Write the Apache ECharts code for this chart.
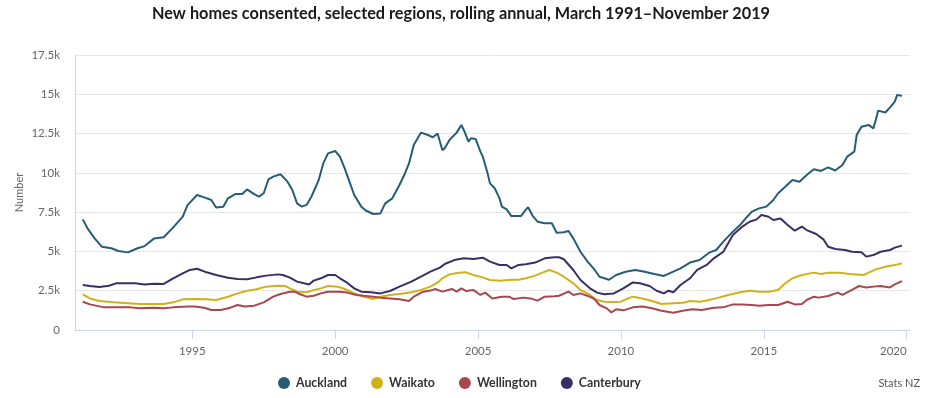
<!DOCTYPE html>
<html>
<head>
<meta charset="utf-8">
<title>New homes consented</title>
<script src="https://cdn.jsdelivr.net/npm/echarts@6/dist/echarts.min.js"></script>
<style>
html, body { margin: 0; padding: 0; background: #fff; }
#echarts { width: 932px; height: 398px; }
</style>
</head>
<body>
<div id="echarts"></div>
<script>
// rolling annual new homes consented
var auckland = [
	['1991-03',7040],['1991-05',6470],['1991-08',5830],['1991-11',5300],['1992-03',5200],['1992-06',5030],
	['1992-10',4940],['1993-02',5200],['1993-05',5340],['1993-09',5830],['1994-01',5900],['1994-05',6530],
	['1994-09',7210],['1994-11',7950],['1995-03',8590],['1995-06',8440],['1995-09',8270],['1995-11',7790],
	['1996-02',7850],['1996-04',8380],['1996-07',8650],['1996-10',8650],['1996-12',8950],['1997-03',8650],
	['1997-05',8490],['1997-07',8700],['1997-09',9590],['1997-11',9760],['1998-02',9910],['1998-05',9440],
	['1998-07',8910],['1998-09',8060],['1998-11',7850],['1999-01',7960],['1999-03',8480],['1999-06',9500],
	['1999-08',10600],['1999-10',11240],['2000-01',11390],['2000-03',11030],['2000-05',10290],['2000-07',9440],
	['2000-09',8590],['2000-12',7850],['2001-02',7590],['2001-05',7380],['2001-08',7420],['2001-10',8060],
	['2002-01',8380],['2002-04',9230],['2002-06',9860],['2002-08',10600],['2002-10',11770],['2002-12',12300],
	['2003-01',12560],['2003-04',12410],['2003-06',12260],['2003-08',12510],['2003-10',11450],['2003-11',11560],
	['2004-01',12090],['2004-04',12560],['2004-06',13050],['2004-07',12730],['2004-09',11980],['2004-10',12200],
	['2004-12',12150],['2005-02',11350],['2005-03',11030],['2005-05',9970],['2005-06',9330],['2005-08',9020],
	['2005-10',8380],['2005-11',7850],['2006-01',7680],['2006-03',7250],['2006-07',7250],['2006-09',7640],
	['2006-10',7810],['2006-12',7250],['2007-02',6890],['2007-05',6790],['2007-08',6790],['2007-10',6190],
	['2008-01',6220],['2008-03',6300],['2008-05',5830],['2008-08',4980],['2008-11',4350],['2009-02',3820],
	['2009-04',3390],['2009-08',3200],['2009-11',3500],['2010-03',3710],['2010-07',3820],['2010-11',3710],
	['2011-03',3560],['2011-07',3440],['2011-11',3710],['2012-02',3920],['2012-06',4290],['2012-10',4450],
	['2013-02',4920],['2013-05',5090],['2013-08',5620],['2013-12',6260],['2014-03',6680],['2014-06',7210],
	['2014-08',7530],['2014-11',7740],['2015-02',7850],['2015-05',8270],['2015-07',8700],['2015-10',9120],
	['2016-01',9550],['2016-04',9440],['2016-07',9860],['2016-10',10230],['2017-01',10120],['2017-04',10350],
	['2017-07',10150],['2017-10',10500],['2017-12',11030],['2018-03',11350],['2018-04',12410],['2018-06',12940],
	['2018-09',13050],['2018-11',12830],['2018-12',13360],['2019-01',13960],['2019-04',13840],['2019-06',14170],
	['2019-08',14530],['2019-09',14960],['2019-11',14900]
];
var waikato = [
	['1991-03',2270],['1991-06',2010],['1991-10',1850],['1992-04',1760],['1992-10',1700],['1993-03',1650],
	['1993-09',1650],['1994-01',1650],['1994-05',1760],['1994-09',1950],['1995-02',1980],['1995-07',1950],
	['1995-11',1910],['1996-04',2120],['1996-08',2330],['1996-12',2500],['1997-04',2590],['1997-08',2760],
	['1998-01',2820],['1998-04',2800],['1998-06',2650],['1998-09',2440],['1999-01',2400],['1999-03',2500],
	['1999-07',2650],['1999-10',2800],['2000-02',2760],['2000-05',2610],['2000-09',2330],['2001-01',2120],
	['2001-05',1970],['2001-08',2120],['2001-12',2230],['2002-04',2290],['2002-09',2400],['2003-01',2550],
	['2003-05',2760],['2003-08',3010],['2003-10',3290],['2004-01',3540],['2004-05',3650],['2004-08',3670],
	['2004-11',3500],['2005-03',3350],['2005-06',3180],['2005-10',3140],['2006-03',3200],['2006-06',3200],
	['2006-09',3290],['2007-01',3460],['2007-04',3650],['2007-07',3820],['2007-10',3650],['2008-01',3390],
	['2008-05',2970],['2008-08',2550],['2008-12',2230],['2009-03',1910],['2009-06',1800],['2009-10',1780],
	['2010-01',1800],['2010-03',1950],['2010-06',2120],['2010-10',2010],['2011-02',1850],['2011-06',1650],
	['2011-11',1700],['2012-03',1740],['2012-06',1850],['2012-10',1800],['2013-02',1910],['2013-06',2060],
	['2013-10',2230],['2014-03',2400],['2014-07',2500],['2014-11',2440],['2015-03',2440],['2015-07',2550],
	['2015-10',2970],['2016-01',3290],['2016-05',3500],['2016-10',3650],['2017-01',3560],['2017-04',3650],
	['2017-09',3650],['2018-01',3560],['2018-07',3500],['2018-09',3650],['2018-12',3860],['2019-04',4030],
	['2019-08',4140],['2019-11',4240]
];
var wellington = [
	['1991-03',1800],['1991-06',1630],['1991-12',1440],['1992-05',1440],['1992-11',1440],['1993-03',1380],
	['1993-09',1420],['1994-01',1380],['1994-05',1440],['1994-11',1490],['1995-02',1490],['1995-06',1420],
	['1995-09',1270],['1996-01',1270],['1996-05',1420],['1996-08',1590],['1996-11',1490],['1997-03',1550],
	['1997-07',1760],['1997-11',2120],['1998-02',2290],['1998-06',2440],['1998-08',2440],['1998-10',2290],
	['1999-01',2120],['1999-04',2180],['1999-07',2330],['1999-10',2440],['2000-03',2440],['2000-06',2380],
	['2000-10',2230],['2001-01',2180],['2001-05',2120],['2001-08',2060],['2001-12',2010],['2002-04',1950],
	['2002-08',1850],['2002-10',2120],['2003-02',2440],['2003-06',2550],['2003-07',2610],['2003-10',2440],
	['2004-02',2610],['2004-04',2440],['2004-06',2650],['2004-08',2480],['2004-11',2550],['2005-02',2230],
	['2005-04',2380],['2005-07',2010],['2005-11',2120],['2006-02',2120],['2006-04',1970],['2006-08',2060],
	['2006-11',2010],['2007-02',1870],['2007-05',2120],['2007-09',2150],['2007-11',2180],['2008-03',2440],
	['2008-05',2230],['2008-08',2330],['2008-12',2120],['2009-02',1950],['2009-04',1590],['2009-07',1380],
	['2009-09',1120],['2009-11',1320],['2010-02',1250],['2010-06',1440],['2010-10',1490],['2011-02',1380],
	['2011-06',1230],['2011-11',1100],['2012-03',1230],['2012-07',1320],['2012-11',1270],['2013-04',1420],
	['2013-08',1440],['2013-12',1630],['2014-04',1630],['2014-08',1590],['2014-11',1550],['2015-03',1590],
	['2015-07',1590],['2015-11',1800],['2016-02',1630],['2016-05',1650],['2016-07',1910],['2016-10',2120],
	['2016-12',2060],['2017-04',2160],['2017-08',2380],['2017-10',2230],['2018-02',2550],['2018-05',2800],
	['2018-08',2700],['2018-11',2760],['2019-02',2800],['2019-06',2710],['2019-08',2900],['2019-11',3110]
];
var canterbury = [
	['1991-03',2860],['1991-06',2800],['1991-10',2740],['1992-02',2820],['1992-05',2970],['1992-10',2970],
	['1993-01',2970],['1993-05',2900],['1993-09',2950],['1994-01',2930],['1994-05',3290],['1994-09',3600],
	['1994-12',3820],['1995-03',3900],['1995-07',3670],['1995-11',3500],['1996-04',3330],['1996-08',3250],
	['1996-12',3230],['1997-04',3350],['1997-08',3460],['1998-01',3540],['1998-03',3500],['1998-06',3330],
	['1998-09',3080],['1998-12',2970],['1999-02',2900],['1999-04',3140],['1999-07',3290],['1999-10',3500],
	['2000-01',3500],['2000-03',3290],['2000-06',3010],['2000-09',2650],['2000-12',2440],['2001-04',2400],
	['2001-08',2330],['2001-12',2480],['2002-04',2760],['2002-09',3080],['2003-01',3390],['2003-05',3710],
	['2003-09',3970],['2003-11',4200],['2004-03',4450],['2004-07',4560],['2004-11',4520],['2005-03',4600],
	['2005-06',4350],['2005-10',4140],['2006-01',4140],['2006-03',3920],['2006-06',4140],['2006-09',4180],
	['2007-01',4290],['2007-05',4560],['2007-09',4630],['2007-11',4630],['2008-01',4500],['2008-05',3820],
	['2008-08',3180],['2008-12',2650],['2009-03',2380],['2009-06',2270],['2009-10',2330],['2010-02',2650],
	['2010-06',3030],['2010-09',2970],['2011-01',2800],['2011-04',2500],['2011-07',2330],['2011-09',2500],
	['2011-11',2400],['2012-02',2860],['2012-06',3290],['2012-09',3820],['2013-01',4140],['2013-04',4560],
	['2013-08',4980],['2013-12',6040],['2014-04',6580],['2014-07',6890],['2014-10',7040],['2014-12',7320],
	['2015-03',7210],['2015-05',7000],['2015-08',7100],['2015-11',6680],['2016-02',6320],['2016-05',6580],
	['2016-07',6360],['2016-11',6110],['2017-02',5770],['2017-04',5300],['2017-07',5150],['2017-11',5090],
	['2018-02',4980],['2018-06',4950],['2018-08',4670],['2018-11',4770],['2019-02',4980],['2019-06',5090],
	['2019-08',5240],['2019-11',5370]
];
var yearLabels = [1995, 2000, 2005, 2010, 2015, 2020];

baidu_echarts();

// 'YYYY-MM' -> fractional year, so a plain value axis can carry the dates
function toYear(s){
	var p = s.split('-');
	return +p[0] + (+p[1] - 1) / 12;
}

function baidu_echarts(){
	var dom = document.getElementById("echarts");
	var myChart = echarts.init(dom);
	var font = 'Lato, "Open Sans", sans-serif';
	var toPoints = function (arr) {
		return arr.map(function (d) { return [toYear(d[0]), d[1]]; });
	};
	var option = {
		color: ['#255d77', '#cfb21a', '#a9464f', '#3a2e66'],
		textStyle: { fontFamily: font },
		title: {
			text: 'New homes consented, selected regions, rolling annual, March 1991\u2013November 2019',
			left: 147,
			top: 1,
			textStyle: { fontSize: 16.3, fontWeight: 'bold', color: '#1a1a1a', fontFamily: font }
		},
		graphic: [{
			type: 'text',
			right: 12,
			top: 378,
			style: { text: 'Stats NZ', fill: '#555', fontSize: 11, fontFamily: font }
		}],
		legend: {
			left: 273,
			top: 372,
			itemWidth: 14,
			itemHeight: 12,
			itemGap: 24,
			icon: 'circle',
			textStyle: { fontSize: 12.3, fontWeight: 'bold', color: '#333', fontFamily: font },
			data: ['Auckland', 'Waikato', 'Wellington', 'Canterbury']
		},
		grid: { left: 75, right: 22, top: 55, bottom: 68 },
		xAxis: {
			type: 'value',
			min: 1990.896,
			max: 2020.115,
			axisLine: { show: true, onZero: false, lineStyle: { color: '#ccd6eb', width: 1 } },
			axisTick: { show: true, length: 9, customValues: yearLabels, lineStyle: { color: '#ccd6eb' } },
			axisLabel: {
				customValues: yearLabels,
				color: '#666',
				fontSize: 11.5,
				margin: 15,
				alignMaxLabel: 'right',
				formatter: function (v) { return String(v); }
			},
			splitLine: { show: false }
		},
		yAxis: {
			type: 'value',
			min: 0,
			max: 17500,
			interval: 2500,
			name: 'Number',
			nameLocation: 'middle',
			nameGap: 50,
			nameMoveOverlap: false,
			nameTextStyle: { color: '#666', fontSize: 11, fontFamily: font },
			axisLine: { show: true, lineStyle: { color: '#ccd6eb' } },
			axisTick: { show: false },
			axisLabel: {
				color: '#666',
				fontSize: 11.5,
				margin: 15,
				formatter: function (v) { return v === 0 ? '0' : (v / 1000) + 'k'; }
			},
			splitLine: { lineStyle: { color: '#e6e6e6' } }
		},
		series: [
			{ name: 'Auckland', type: 'line', data: toPoints(auckland) },
			{ name: 'Waikato', type: 'line', data: toPoints(waikato) },
			{ name: 'Wellington', type: 'line', data: toPoints(wellington) },
			{ name: 'Canterbury', type: 'line', data: toPoints(canterbury) }
		].map(function (s) {
			s.showSymbol = false;
			s.symbol = 'none';
			s.lineStyle = { width: 2 };
			return s;
		}),
		animation: false
	};
	if (option && typeof option === "object") {
	    myChart.setOption(option, true);
	}
}
</script>
</body>
</html>
